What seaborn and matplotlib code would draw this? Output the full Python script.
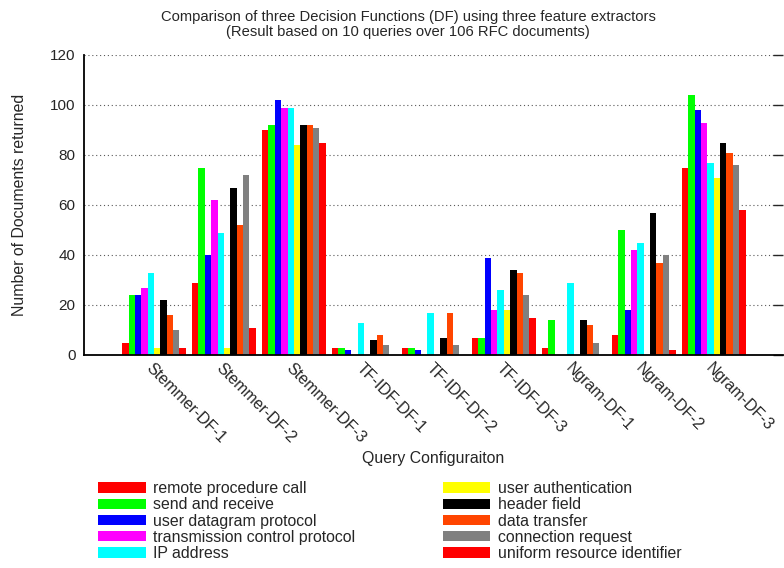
"""
三种决策函数 (DF) 与三种特征提取方法的检索结果对比图
"""

import pandas as pd
import matplotlib
matplotlib.use('Agg')
import matplotlib.pyplot as plt
import seaborn as sns

# 查询配置（x 轴分组）
configs = ['Stemmer-DF-1', 'Stemmer-DF-2', 'Stemmer-DF-3',
           'TF-IDF-DF-1', 'TF-IDF-DF-2', 'TF-IDF-DF-3',
           'Ngram-DF-1', 'Ngram-DF-2', 'Ngram-DF-3']

# 查询词（图例）
queries = ['remote procedure call', 'send and receive', 'user datagram protocol',
           'transmission control protocol', 'IP address', 'user authentication',
           'header field', 'data transfer', 'connection request',
           'uniform resource identifier']

# 每个查询在各配置下返回的文档数
remote_procedure_call = [5, 29, 90, 3, 3, 7, 3, 8, 75]
send_and_receive = [24, 75, 92, 3, 3, 7, 14, 50, 104]
user_datagram_protocol = [24, 40, 102, 2, 2, 39, 0, 18, 98]
transmission_control_protocol = [27, 62, 99, 0, 0, 18, 0, 42, 93]
ip_address = [33, 49, 99, 13, 17, 26, 29, 45, 77]
user_authentication = [3, 3, 84, 0, 0, 18, 0, 0, 71]
header_field = [22, 67, 92, 6, 7, 34, 14, 57, 85]
data_transfer = [16, 52, 92, 8, 17, 33, 12, 37, 81]
connection_request = [10, 72, 91, 4, 4, 24, 5, 40, 76]
uniform_resource_identifier = [3, 11, 85, 0, 0, 15, 0, 2, 58]

colors = ['#ff0000', '#00ff00', '#0000ff', '#ff00ff', '#00ffff',
          '#ffff00', '#000000', '#ff4500', '#808080', '#ff0000']


def build_frame():
    series = [remote_procedure_call, send_and_receive, user_datagram_protocol,
              transmission_control_protocol, ip_address, user_authentication,
              header_field, data_transfer, connection_request,
              uniform_resource_identifier]
    rows = []
    for q, vals in zip(queries, series):
        for c, v in zip(configs, vals):
            rows.append({'config': c, 'query': q, 'docs': v})
    return pd.DataFrame(rows)


def main():
    df = build_frame()

    sns.set_style('white')
    plt.rcParams['font.family'] = ['Liberation Sans', 'DejaVu Sans']
    plt.rcParams['font.size'] = 11.4

    fig, ax = plt.subplots(figsize=(7.84, 5.68), dpi=100)
    fig.subplots_adjust(left=84/784, right=783/784, bottom=213/568, top=513/568)

    sns.barplot(data=df, x='config', y='docs', hue='query', order=configs,
                hue_order=queries, palette=colors, width=10/11, gap=0,
                saturation=1, linewidth=0, ax=ax)

    ax.set_xlim(-1, 8.99)
    ax.set_ylim(0, 120)
    ax.set_yticks(range(0, 121, 20))

    # 虚线网格
    ax.yaxis.grid(True, linestyle=(0, (1, 2.5)), color='0.35', linewidth=0.8)
    ax.set_axisbelow(True)

    # 边框：仅左、下
    ax.spines['top'].set_visible(False)
    ax.spines['right'].set_visible(False)
    for s in ['left', 'bottom']:
        ax.spines[s].set_linewidth(1.3)
        ax.spines[s].set_color('black')

    ax.tick_params(axis='y', direction='in', length=7, width=1, right=True, pad=6,
                   labelsize=11)
    ax.tick_params(axis='x', direction='in', length=6, width=1, pad=4)
    for lbl in ax.get_xticklabels():
        lbl.set_rotation(-45)
        lbl.set_ha('left')
        lbl.set_va('top')
        lbl.set_rotation_mode('anchor')
        lbl.set_fontsize(11.5)

    ax.set_xlabel('Query Configuraiton', fontsize=11.4)
    ax.xaxis.set_label_coords(0.5, -0.32)
    ax.set_ylabel('Number of Documents returned', fontsize=11.4)
    ax.yaxis.set_label_coords(-0.081, 0.5)

    fig.text(408/784, 1 - 10/568,
             'Comparison of three Decision Functions (DF) using three feature extractors\n'
             '(Result based on 10 queries over 106 RFC documents)',
             ha='center', va='top', fontsize=10.6, linespacing=1.05)

    # 图例放在下方，两列
    sns.move_legend(ax, loc='upper left', bbox_to_anchor=(98/784, 1 - 481/568),
                    bbox_transform=fig.transFigure, ncol=2, frameon=False,
                    title=None, fontsize=11.4, handlelength=3.0, handleheight=0.63,
                    handletextpad=0.5, labelspacing=0.08, columnspacing=5.5,
                    borderpad=0, borderaxespad=0)

    fig.savefig('out.png', dpi=100)
    plt.close(fig)


if __name__ == '__main__':
    main()
